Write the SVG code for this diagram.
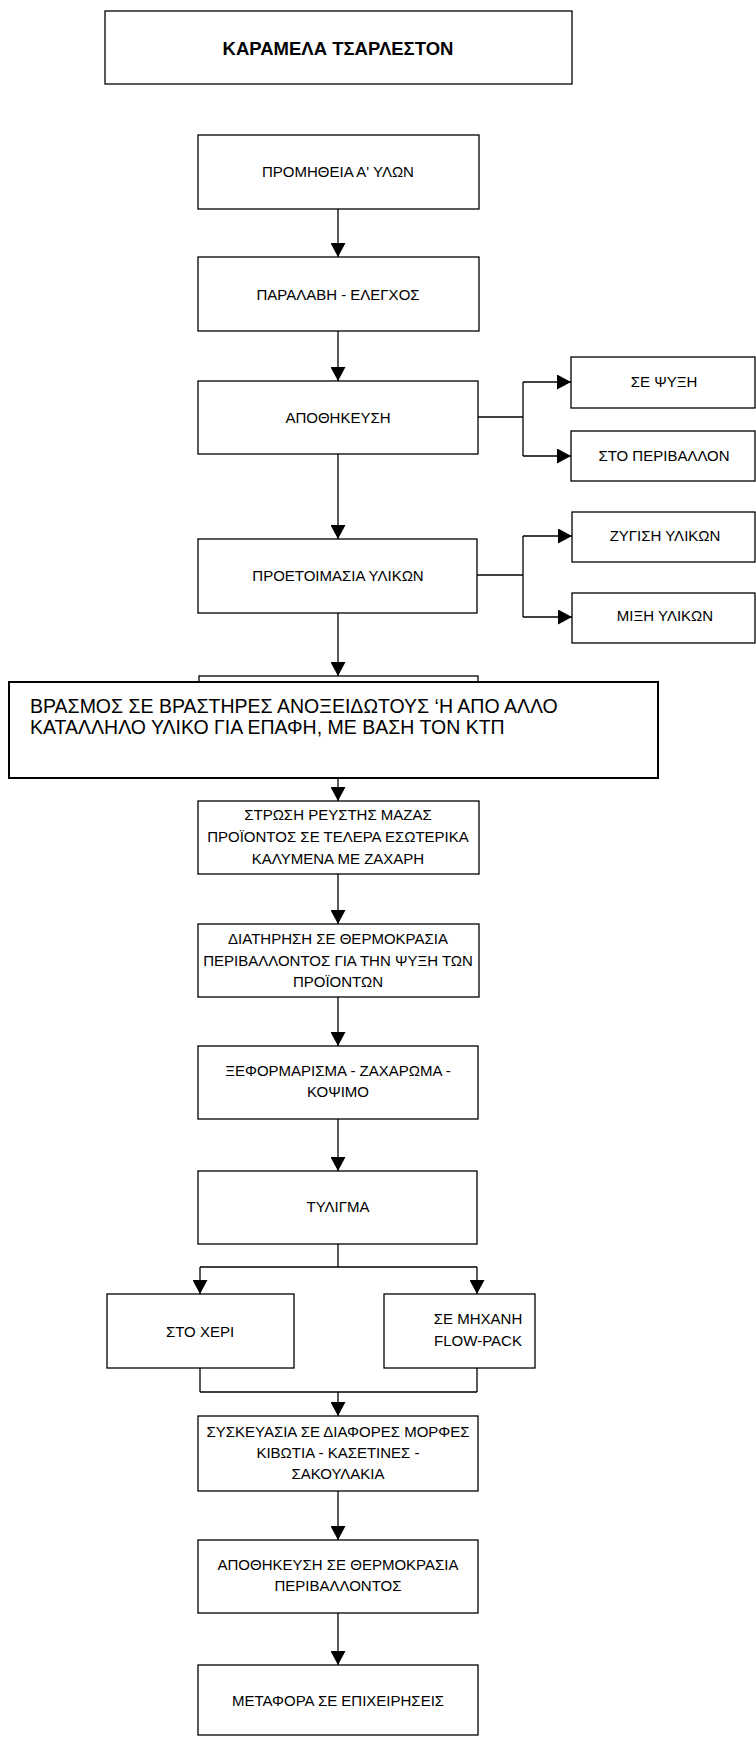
<svg xmlns="http://www.w3.org/2000/svg" width="756" height="1737" viewBox="0 0 756 1737">
<defs>
<marker id="ah" markerUnits="userSpaceOnUse" markerWidth="15" markerHeight="15" refX="14" refY="7.5" orient="auto">
<path d="M0,0 L14,7.5 L0,15 Z" fill="#000"/>
</marker>
<style>
.box{fill:#fff;stroke:#000;stroke-width:1.3}
.big{fill:#fff;stroke:#000;stroke-width:2}
.t{font-family:"Liberation Sans",Arial,sans-serif;font-size:15px;fill:#000;text-anchor:middle}
.tb{font-family:"Liberation Sans",Arial,sans-serif;font-size:18.5px;font-weight:bold;fill:#000;text-anchor:middle}
.tl{font-family:"Liberation Sans",Arial,sans-serif;font-size:19.5px;fill:#000}
.c{fill:none;stroke:#000;stroke-width:1.3}
.a{fill:none;stroke:#000;stroke-width:1.3;marker-end:url(#ah)}
</style>
</defs>
<rect width="756" height="1737" fill="#fff"/>

<g id="connectors">
<line class="a" x1="338" y1="209" x2="338" y2="257"/>
<line class="a" x1="338" y1="331" x2="338" y2="381"/>
<line class="c" x1="478" y1="417" x2="523" y2="417"/>
<line class="c" x1="523" y1="382" x2="523" y2="456"/>
<line class="a" x1="523" y1="382" x2="571" y2="382"/>
<line class="a" x1="523" y1="456" x2="571" y2="456"/>
<line class="a" x1="338" y1="454" x2="338" y2="539"/>
<line class="c" x1="477" y1="575" x2="523" y2="575"/>
<line class="c" x1="523" y1="536" x2="523" y2="617"/>
<line class="a" x1="523" y1="536" x2="572" y2="536"/>
<line class="a" x1="523" y1="617" x2="572" y2="617"/>
<line class="a" x1="338" y1="613" x2="338" y2="676"/>
<line class="a" x1="338" y1="778" x2="338" y2="801"/>
<line class="a" x1="338" y1="874" x2="338" y2="924"/>
<line class="a" x1="338" y1="997" x2="338" y2="1046"/>
<line class="a" x1="338" y1="1119" x2="338" y2="1171"/>
<line class="c" x1="338" y1="1244" x2="338" y2="1267"/>
<line class="c" x1="200" y1="1267" x2="477" y2="1267"/>
<line class="a" x1="200" y1="1267" x2="200" y2="1294"/>
<line class="a" x1="477" y1="1267" x2="477" y2="1294"/>
<line class="c" x1="200" y1="1368" x2="200" y2="1392"/>
<line class="c" x1="477" y1="1368" x2="477" y2="1392"/>
<line class="c" x1="200" y1="1392" x2="477" y2="1392"/>
<line class="a" x1="338" y1="1392" x2="338" y2="1416"/>
<line class="a" x1="338" y1="1491" x2="338" y2="1540"/>
<line class="a" x1="338" y1="1613" x2="338" y2="1665"/>
</g>

<g id="title"><rect class="box" x="105" y="11" width="467" height="73"/><text class="tb" x="338" y="55">ΚΑΡΑΜΕΛΑ ΤΣΑΡΛΕΣΤΟΝ</text></g>
<g id="n1"><rect class="box" x="198" y="135" width="281" height="74"/><text class="t" x="338" y="177">ΠΡΟΜΗΘΕΙΑ Α' ΥΛΩΝ</text></g>
<g id="n2"><rect class="box" x="198" y="257" width="281" height="74"/><text class="t" x="338" y="300">ΠΑΡΑΛΑΒΗ - ΕΛΕΓΧΟΣ</text></g>
<g id="n3"><rect class="box" x="198" y="381" width="280" height="73"/><text class="t" x="338" y="423">ΑΠΟΘΗΚΕΥΣΗ</text></g>
<g id="n3a"><rect class="box" x="571" y="357" width="184" height="51"/><text class="t" x="664" y="387">ΣΕ ΨΥΞΗ</text></g>
<g id="n3b"><rect class="box" x="571" y="431" width="184" height="50"/><text class="t" x="664" y="461">ΣΤΟ ΠΕΡΙΒΑΛΛΟΝ</text></g>
<g id="n4"><rect class="box" x="198" y="539" width="279" height="74"/><text class="t" x="338" y="581">ΠΡΟΕΤΟΙΜΑΣΙΑ ΥΛΙΚΩΝ</text></g>
<g id="n4a"><rect class="box" x="572" y="512" width="183" height="50"/><text class="t" x="665" y="541">ΖΥΓΙΣΗ ΥΛΙΚΩΝ</text></g>
<g id="n4b"><rect class="box" x="572" y="593" width="183" height="50"/><text class="t" x="665" y="621">ΜΙΞΗ ΥΛΙΚΩΝ</text></g>
<g id="n5"><rect class="box" x="199" y="676" width="279" height="80"/><rect class="big" x="9" y="682" width="649" height="96"/><text class="tl" x="30" y="713">ΒΡΑΣΜΟΣ ΣΕ ΒΡΑΣΤΗΡΕΣ ΑΝΟΞΕΙΔΩΤΟΥΣ ‘Η ΑΠΟ ΑΛΛΟ</text><text class="tl" x="30" y="734">ΚΑΤΑΛΛΗΛΟ ΥΛΙΚΟ ΓΙΑ ΕΠΑΦΗ, ΜΕ ΒΑΣΗ ΤΟΝ ΚΤΠ</text></g>
<g id="n6"><rect class="box" x="198" y="801" width="281" height="73"/><text class="t" x="338" y="820">ΣΤΡΩΣΗ ΡΕΥΣΤΗΣ ΜΑΖΑΣ</text><text class="t" x="338" y="842">ΠΡΟΪΟΝΤΟΣ ΣΕ ΤΕΛΕΡΑ ΕΣΩΤΕΡΙΚΑ</text><text class="t" x="338" y="864">ΚΑΛΥΜΕΝΑ ΜΕ ΖΑΧΑΡΗ</text></g>
<g id="n7"><rect class="box" x="198" y="924" width="281" height="73"/><text class="t" x="338" y="944">ΔΙΑΤΗΡΗΣΗ ΣΕ ΘΕΡΜΟΚΡΑΣΙΑ</text><text class="t" x="338" y="966">ΠΕΡΙΒΑΛΛΟΝΤΟΣ ΓΙΑ ΤΗΝ ΨΥΞΗ ΤΩΝ</text><text class="t" x="338" y="987">ΠΡΟΪΟΝΤΩΝ</text></g>
<g id="n8"><rect class="box" x="198" y="1046" width="280" height="73"/><text class="t" x="338" y="1076">ΞΕΦΟΡΜΑΡΙΣΜΑ - ΖΑΧΑΡΩΜΑ -</text><text class="t" x="338" y="1097">ΚΟΨΙΜΟ</text></g>
<g id="n9"><rect class="box" x="198" y="1171" width="279" height="73"/><text class="t" x="338" y="1212">ΤΥΛΙΓΜΑ</text></g>
<g id="n9a"><rect class="box" x="107" y="1294" width="187" height="74"/><text class="t" x="200" y="1337">ΣΤΟ ΧΕΡΙ</text></g>
<g id="n9b"><rect class="box" x="384" y="1294" width="151" height="74"/><text class="t" x="478" y="1324">ΣΕ ΜΗΧΑΝΗ</text><text class="t" x="478" y="1346">FLOW-PACK</text></g>
<g id="n10"><rect class="box" x="198" y="1416" width="280" height="75"/><text class="t" x="338" y="1437">ΣΥΣΚΕΥΑΣΙΑ ΣΕ ΔΙΑΦΟΡΕΣ ΜΟΡΦΕΣ</text><text class="t" x="338" y="1458">ΚΙΒΩΤΙΑ - ΚΑΣΕΤΙΝΕΣ -</text><text class="t" x="338" y="1479">ΣΑΚΟΥΛΑΚΙΑ</text></g>
<g id="n11"><rect class="box" x="198" y="1540" width="280" height="73"/><text class="t" x="338" y="1570">ΑΠΟΘΗΚΕΥΣΗ ΣΕ ΘΕΡΜΟΚΡΑΣΙΑ</text><text class="t" x="338" y="1591">ΠΕΡΙΒΑΛΛΟΝΤΟΣ</text></g>
<g id="n12"><rect class="box" x="198" y="1665" width="280" height="70"/><text class="t" x="338" y="1706">ΜΕΤΑΦΟΡΑ ΣΕ ΕΠΙΧΕΙΡΗΣΕΙΣ</text></g>
</svg>
